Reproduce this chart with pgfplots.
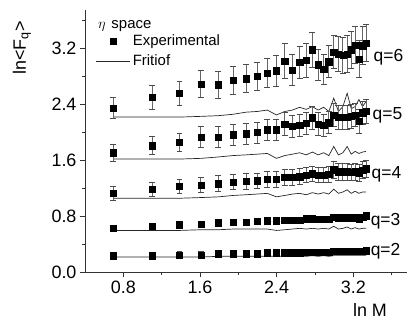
\documentclass[border=0pt]{standalone}
\usepackage{pgfplots}
\usepackage{pgfplotstable}
\usepackage{fontspec}
\setmainfont{Liberation Sans}
\pgfplotsset{compat=1.18}

\pgfplotstableread{
x y e f
0.6931 2.35 0.15 2.22
1.0986 2.50 0.17 2.22
1.3863 2.56 0.17 2.22
1.6094 2.69 0.19 2.23
1.7918 2.68 0.19 2.24
1.9459 2.75 0.20 2.26
2.0794 2.77 0.20 2.29
2.1972 2.80 0.20 2.30
2.3026 2.85 0.21 2.32
2.3979 2.88 0.22 2.25
2.4849 3.02 0.25 2.30
2.5649 2.89 0.22 2.32
2.6391 3.00 0.23 2.36
2.7081 3.03 0.24 2.33
2.7726 3.18 0.25 2.37
2.8332 2.97 0.22 2.32
2.8904 2.90 0.22 2.36
2.9444 3.01 0.23 2.30
2.9957 3.15 0.24 2.49
3.0445 3.12 0.25 2.30
3.0910 3.10 0.26 2.37
3.1355 3.12 0.26 2.56
3.1781 3.18 0.26 2.34
3.2189 3.25 0.26 2.37
3.2581 3.05 0.26 2.47
3.2958 3.24 0.27 2.37
3.3322 3.28 0.27 2.44
}\qsix

\pgfplotstableread{
x y e f
0.6931 1.71 0.12 1.62
1.0986 1.81 0.13 1.62
1.3863 1.86 0.13 1.62
1.6094 1.93 0.15 1.63
1.7918 1.93 0.15 1.65
1.9459 1.97 0.15 1.67
2.0794 1.98 0.15 1.68
2.1972 2.00 0.15 1.69
2.3026 2.04 0.15 1.70
2.3979 2.04 0.15 1.63
2.4849 2.12 0.16 1.67
2.5649 2.09 0.16 1.69
2.6391 2.10 0.16 1.71
2.7081 2.13 0.16 1.68
2.7726 2.21 0.16 1.72
2.8332 2.12 0.16 1.68
2.8904 2.10 0.16 1.71
2.9444 2.14 0.16 1.67
2.9957 2.25 0.17 1.80
3.0445 2.22 0.17 1.68
3.0910 2.22 0.17 1.71
3.1355 2.22 0.17 1.80
3.1781 2.23 0.17 1.69
3.2189 2.25 0.17 1.73
3.2581 2.16 0.17 1.70
3.2958 2.28 0.17 1.72
3.3322 2.30 0.17 1.73
}\qfive

\pgfplotstableread{
x y e f
0.6931 1.13 0.10 1.06
1.0986 1.19 0.10 1.06
1.3863 1.23 0.10 1.06
1.6094 1.25 0.11 1.07
1.7918 1.27 0.11 1.08
1.9459 1.29 0.11 1.10
2.0794 1.30 0.11 1.11
2.1972 1.31 0.11 1.12
2.3026 1.33 0.11 1.13
2.3979 1.33 0.11 1.08
2.4849 1.36 0.11 1.10
2.5649 1.36 0.11 1.12
2.6391 1.37 0.11 1.13
2.7081 1.39 0.11 1.11
2.7726 1.41 0.11 1.14
2.8332 1.39 0.11 1.12
2.8904 1.39 0.11 1.14
2.9444 1.40 0.11 1.12
2.9957 1.47 0.12 1.19
3.0445 1.44 0.12 1.13
3.0910 1.44 0.12 1.15
3.1355 1.44 0.12 1.18
3.1781 1.43 0.12 1.13
3.2189 1.44 0.12 1.16
3.2581 1.42 0.12 1.13
3.2958 1.46 0.12 1.15
3.3322 1.48 0.12 1.15
}\qfour

\pgfplotstableread{
x y e f
0.6931 0.63 0.03 0.60
1.0986 0.66 0.03 0.60
1.3863 0.68 0.03 0.60
1.6094 0.69 0.03 0.61
1.7918 0.71 0.03 0.61
1.9459 0.72 0.03 0.62
2.0794 0.72 0.03 0.62
2.1972 0.73 0.03 0.62
2.3026 0.74 0.03 0.62
2.3979 0.74 0.03 0.60
2.4849 0.75 0.03 0.61
2.5649 0.75 0.03 0.62
2.6391 0.75 0.03 0.63
2.7081 0.77 0.03 0.62
2.7726 0.77 0.03 0.63
2.8332 0.76 0.03 0.62
2.8904 0.76 0.03 0.63
2.9444 0.76 0.03 0.62
2.9957 0.79 0.03 0.66
3.0445 0.78 0.03 0.62
3.0910 0.78 0.03 0.63
3.1355 0.78 0.03 0.65
3.1781 0.78 0.03 0.62
3.2189 0.78 0.03 0.64
3.2581 0.77 0.03 0.62
3.2958 0.79 0.03 0.63
3.3322 0.81 0.03 0.63
}\qthree

\pgfplotstableread{
x y e f
0.6931 0.24 0.05 0.22
1.0986 0.24 0.05 0.22
1.3863 0.25 0.05 0.22
1.6094 0.25 0.05 0.22
1.7918 0.27 0.04 0.23
1.9459 0.27 0.04 0.23
2.0794 0.27 0.04 0.23
2.1972 0.27 0.04 0.23
2.3026 0.28 0.04 0.23
2.3979 0.28 0.04 0.23
2.4849 0.28 0.04 0.23
2.5649 0.28 0.04 0.23
2.6391 0.28 0.04 0.23
2.7081 0.29 0.04 0.23
2.7726 0.29 0.04 0.24
2.8332 0.29 0.04 0.23
2.8904 0.29 0.04 0.24
2.9444 0.29 0.04 0.23
2.9957 0.30 0.04 0.24
3.0445 0.30 0.04 0.24
3.0910 0.30 0.04 0.24
3.1355 0.30 0.04 0.24
3.1781 0.30 0.04 0.24
3.2189 0.30 0.04 0.24
3.2581 0.30 0.04 0.24
3.2958 0.30 0.04 0.24
3.3322 0.31 0.04 0.24
}\qtwo

\pgfplotsset{
  expstyle/.style={only marks, mark=square*, mark size=3.2pt, black,
    error bars/.cd, y dir=both, y explicit,
    error bar style={black!60, line width=0.8pt},
    error mark options={rotate=90, mark size=3pt, black!70, line width=0.8pt},
    /pgfplots/.cd},
  fristyle/.style={black!85, line width=0.7pt, no marks},
}

\begin{document}
\begin{tikzpicture}
\begin{axis}[
  name=ax,
  scale only axis,
  width=322.1bp, height=262.5bp,
  xmin=0.4, xmax=3.76, ymin=0, ymax=3.75,
  axis x line*=bottom, axis y line*=left,
  axis line style={black!80, line width=0.8pt},
  clip=false,
  xtick={0.8,1.6,2.4,3.2}, minor xtick={1.2,2.0,2.8,3.6},
  ytick={0,0.8,1.6,2.4,3.2}, minor ytick={0.4,1.2,2.0,2.8,3.6},
  tick align=outside,
  major tick length=5bp, minor tick length=3bp,
  tick style={black!80, line width=0.8pt},
  /pgf/number format/assume math mode=true,
  xticklabel style={font=\fontsize{18}{20}\selectfont, /pgf/number format/.cd, fixed, fixed zerofill, precision=1},
  yticklabel style={font=\fontsize{18}{20}\selectfont, /pgf/number format/.cd, fixed, fixed zerofill, precision=1},
  xlabel={ln M},
  ylabel={ln<F\textsubscript{q}>},
  xlabel style={font=\fontsize{18}{20}\selectfont, inner sep=0pt, at={(axis description cs:0.885,-0.145)}, anchor=center},
  ylabel style={font=\fontsize{18}{20}\selectfont, at={(axis description cs:-0.196,0.855)}, anchor=center},
  legend image code/.code={\draw[mark repeat=2,mark phase=2,#1] plot coordinates {(0cm,0cm) (0.6cm,0cm) (1.2cm,0cm)};},
  legend style={draw=none, fill=none, at={(axis description cs:0.034,0.842)}, anchor=west,
    font=\fontsize{15}{18}\selectfont, inner sep=0pt,
    nodes={text height=11bp, text depth=3bp, inner ysep=3bp, inner xsep=2bp}},
  legend cell align=left,
]
\addlegendimage{only marks, mark=square*, mark size=3.2pt, black}
\addlegendentry{Experimental}
\addlegendimage{black!85, line width=0.7pt}
\addlegendentry{Fritiof}

\addplot[forget plot, fristyle] table[x=x, y=f] {\qsix};
\addplot[forget plot, fristyle] table[x=x, y=f] {\qfive};
\addplot[forget plot, fristyle] table[x=x, y=f] {\qfour};
\addplot[forget plot, fristyle] table[x=x, y=f] {\qthree};
\addplot[forget plot, fristyle] table[x=x, y=f] {\qtwo};

\addplot[forget plot, expstyle] table[x=x, y=y, y error=e] {\qsix};
\addplot[forget plot, expstyle] table[x=x, y=y, y error=e] {\qfive};
\addplot[forget plot, expstyle] table[x=x, y=y, y error=e] {\qfour};
\addplot[forget plot, expstyle] table[x=x, y=y, y error=e] {\qthree};
\addplot[forget plot, expstyle] table[x=x, y=y, y error=e] {\qtwo};

\node[anchor=west, font=\fontsize{15}{18}\selectfont, inner sep=0pt] at (axis description cs:0.04,0.94) {$\eta$\hspace{6bp}space};
\node[anchor=west, font=\fontsize{17.5}{20}\selectfont, inner sep=0pt] at (axis cs:3.41,3.08) {q=6};
\node[anchor=west, font=\fontsize{17.5}{20}\selectfont, inner sep=0pt] at (axis cs:3.40,2.25) {q=5};
\node[anchor=west, font=\fontsize{17.5}{20}\selectfont, inner sep=0pt] at (axis cs:3.39,1.40) {q=4};
\node[anchor=west, font=\fontsize{17.5}{20}\selectfont, inner sep=0pt] at (axis cs:3.38,0.73) {q=3};
\node[anchor=west, font=\fontsize{17.5}{20}\selectfont, inner sep=0pt] at (axis cs:3.38,0.30) {q=2};
\end{axis}
\pgfresetboundingbox
\path[use as bounding box] ([xshift=-85bp,yshift=-47.3bp]ax.south west) rectangle ([yshift=10bp]ax.north east);
\end{tikzpicture}
\end{document}
